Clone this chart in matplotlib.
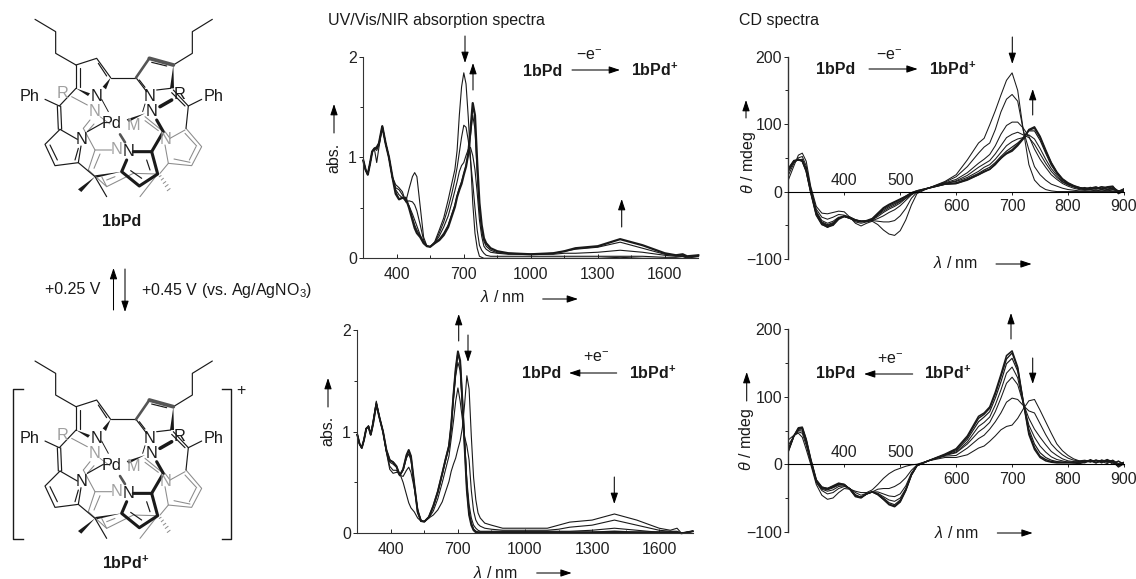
import matplotlib
matplotlib.use('Agg')
import matplotlib.pyplot as plt

plt.rcParams['font.family'] = ['Liberation Sans', 'DejaVu Sans']
plt.rcParams['mathtext.fontset'] = 'custom'
plt.rcParams['mathtext.rm'] = 'Liberation Sans'
plt.rcParams['mathtext.it'] = 'Liberation Sans:italic'
plt.rcParams['mathtext.bf'] = 'Liberation Sans:bold'

# ---- absorption data (wavelength / nm, absorbance) ----
wl_abs = [250,260,270,280,290,300,310,320,335,350,365,380,395,410,425,440,455,470,480,490,505,520,535,550,570,590,610,630,645,660,
          670,680,690,700,710,720,730,740,750,760,770,780,790,800,820,850,
          900,1000,1100,1150,1200,1300,1400,1500,1600,1650,1680,1700,1750]
abs_ox_1 = [.97,.88,.83,.94,1.06,1.08,.95,1.10,1.31,1.14,1.0,.81,.73,.70,.66,.56,.69,.81,.85,.81,.51,.21,.12,.115,.165,.28,.40,.58,.73,.88,
            1.07,1.42,1.70,1.84,1.73,1.40,1.0,.55,.25,.10,.02,.01,0,0,0,0,
            0,0,0,0,0,0,.01,0,0,0,0,0,0]
abs_ox_2 = [.97,.88,.83,.94,1.06,1.09,1.07,1.12,1.31,1.14,1.0,.80,.70,.68,.63,.56,.57,.56,.53,.47,.33,.18,.12,.115,.155,.25,.36,.50,.63,.78,
            .90,1.05,1.20,1.32,1.30,1.17,.97,.75,.50,.28,.13,.08,.05,.03,.02,.02,
            .02,.02,.02,.02,.02,.02,.02,.02,.01,.01,.02,0,.02]
abs_ox_3 = [.97,.88,.83,.94,1.06,1.09,1.09,1.13,1.31,1.14,1.0,.80,.68,.63,.60,.57,.52,.44,.38,.32,.23,.16,.12,.115,.15,.22,.31,.42,.54,.67,
            .76,.86,.92,.95,1.02,1.08,1.10,1.02,.88,.65,.38,.22,.12,.09,.06,.05,
            .04,.04,.04,.05,.05,.06,.08,.06,.03,.02,.02,.01,.02]
abs_ox_4 = [.97,.88,.83,.94,1.06,1.09,1.10,1.14,1.31,1.14,1.0,.81,.66,.59,.60,.59,.51,.40,.33,.28,.22,.15,.12,.115,.15,.19,.25,.33,.43,.53,
            .62,.70,.76,.84,.92,1.03,1.22,1.42,1.28,.85,.48,.28,.17,.12,.08,.055,
            .05,.04,.05,.07,.09,.11,.16,.10,.04,.03,.03,.01,.03]
abs_ox_5 = [.97,.88,.83,.94,1.06,1.09,1.10,1.14,1.31,1.14,1.0,.81,.64,.585,.60,.60,.50,.38,.30,.25,.21,.15,.12,.115,.15,.18,.23,.31,.41,.51,
            .61,.68,.74,.83,.91,1.04,1.27,1.54,1.42,.95,.55,.33,.20,.15,.10,.07,
            .05,.04,.05,.07,.10,.12,.19,.13,.05,.03,.04,.02,.03]

abs_red_1 = [.97,.88,.84,.92,1.03,1.05,.97,1.07,1.30,1.13,1.0,.80,.63,.59,.60,.59,.50,.38,.30,.25,.21,.15,.12,.115,.15,.18,.23,.31,.41,.51,
             .61,.68,.74,.83,.91,1.04,1.27,1.55,1.42,.95,.55,.33,.20,.15,.10,.08,
             .05,.05,.05,.08,.11,.13,.19,.13,.05,.03,.05,0,.02]
abs_red_2 = [.97,.88,.84,.92,1.03,1.06,.97,1.10,1.29,1.13,1.0,.80,.66,.62,.62,.57,.56,.62,.65,.60,.44,.24,.13,.115,.15,.22,.34,.50,.63,.76,
             .93,1.10,1.30,1.43,1.30,1.12,.95,.86,.72,.42,.22,.13,.09,.07,.05,.04,
             .03,.03,.03,.04,.06,.08,.13,.08,.03,.02,.02,0,.02]
abs_red_3 = [.97,.88,.84,.92,1.03,1.05,.97,1.08,1.27,1.13,1.0,.81,.70,.68,.65,.57,.62,.74,.78,.72,.47,.22,.12,.115,.16,.26,.40,.58,.72,.85,
             1.05,1.32,1.55,1.68,1.60,1.25,.90,.52,.28,.15,.08,.05,.03,.02,.02,.02,
             .02,.02,.02,.02,.02,.03,.05,.03,.01,.01,.01,0,.02]
abs_red_4 = [.97,.88,.84,.92,1.03,1.05,.97,1.07,1.27,1.13,1.0,.82,.72,.70,.66,.57,.63,.76,.81,.75,.47,.21,.12,.115,.16,.27,.41,.59,.73,.86,
             1.06,1.35,1.60,1.77,1.68,1.30,.88,.45,.20,.10,.04,.02,.01,.01,.01,.01,
             .01,.01,.01,.01,.01,.01,.02,.01,.01,.01,.01,0,.02]
abs_red_5 = [.97,.88,.84,.92,1.03,1.05,.97,1.07,1.27,1.13,1.0,.82,.72,.70,.66,.57,.63,.77,.82,.76,.48,.21,.12,.115,.16,.27,.41,.59,.73,.86,
             1.06,1.36,1.62,1.79,1.70,1.30,.85,.42,.18,.08,.03,.01,.01,.01,.01,.01,
             .01,.01,.01,.01,.01,.01,.01,.01,.01,.01,.01,0,.02]

# ---- CD data (wavelength / nm, theta / mdeg) ----
wl_cd = [300,310,318,325,332,340,350,360,370,380,390,400,410,420,430,440,450,460,470,480,490,500,510,520,530,550,580,
         600,620,640,650,660,670,680,690,700,710,720,730,740,750,760,770,780,790,800,
         810,820,830,840,850,860,870,880,890,900]
cd_ox_1 = [17,38,54,57,45,8,-22,-32,-33,-31,-29,-30,-38,-47,-51,-47,-44,-49,-57,-63,-65,-58,-42,-20,-3,5,15,
           25,47,72,79,99,120,143,165,176,150,91,40,17,8,3,1,0,0,0,
           0,0,0,0,0,0,0,0,0,0]
cd_ox_2 = [24,42,50,52,38,5,-26,-38,-41,-38,-34,-35,-39,-45,-47,-45,-43,-44,-45,-45,-43,-36,-25,-10,-1,5,14,
           22,37,57,66,72,92,118,137,144,134,91,62,37,25,17,11,8,5,3,
           2,1,1,1,2,1,2,1,1,0]
cd_ox_3 = [29,44,47,48,34,3,-29,-43,-47,-44,-38,-37,-40,-43,-44,-44,-43,-40,-36,-31,-27,-21,-13,-5,0,5,13,
           18,28,42,48,55,68,85,98,103,103,94,82,63,48,36,25,18,12,8,
           5,3,2,3,2,3,2,3,1,2]
cd_ox_4 = [31,44,47,47,33,2,-31,-45,-49,-46,-39,-37,-40,-43,-44,-44,-42,-37,-31,-26,-22,-17,-10,-4,0,5,12,
           16,24,36,41,46,56,68,80,85,88,84,80,70,56,42,30,21,14,10,
           7,4,3,4,4,5,3,4,1,2]
cd_ox_5 = [32,45,47,46,32,1,-32,-46,-50,-47,-39,-37,-39,-42,-44,-44,-42,-35,-29,-24,-20,-15,-10,-3,0,5,12,
           15,21,30,36,40,48,58,68,74,78,80,84,78,64,48,34,24,15,10,
           7,5,4,3,6,4,5,7,1,3]
cd_ox_6 = [33,45,47,46,31,0,-33,-47,-51,-48,-40,-36,-38,-42,-44,-44,-41,-34,-27,-22,-18,-14,-8,-3,0,5,11,
           13,19,27,32,36,43,52,60,66,72,79,90,90,76,57,39,27,17,11,
           8,5,6,4,5,7,3,6,-2,4]
cd_ox_7 = [34,46,47,45,30,0,-34,-48,-53,-49,-40,-36,-38,-42,-44,-44,-41,-33,-25,-20,-16,-12,-7,-2,1,5,11,
           12,18,25,30,33,40,50,56,60,68,78,92,96,82,62,43,29,19,13,
           9,6,4,6,4,7,6,4,0,4]
cd_ox_8 = [33,45,48,45,31,-1,-35,-49,-52,-50,-41,-37,-39,-43,-45,-43,-40,-32,-24,-19,-15,-11,-7,-2,1,5,11,
           12,17,25,29,33,41,49,57,62,70,80,91,94,80,60,42,28,18,12,
           8,6,3,5,7,3,7,8,-3,1]

cd_red_1 = [36,43,46,40,22,0,-30,-46,-52,-50,-42,-36,-37,-40,-42,-42,-38,-30,-21,-14,-9,-6,-3,-1,0,5,10,
            10,14,24,27,34,42,51,56,58,68,82,94,96,80,63,46,30,20,13,
            8,5,6,4,6,5,4,6,1,3]
cd_red_2 = [28,42,48,46,28,3,-27,-39,-44,-42,-36,-33,-36,-42,-46,-43,-41,-37,-36,-36,-33,-28,-20,-9,-1,5,12,
            13,24,38,43,52,63,76,92,98,96,87,79,76,60,44,30,21,14,9,
            6,5,4,5,3,6,5,2,4,1]
cd_red_3 = [23,42,50,49,32,5,-26,-37,-40,-38,-33,-32,-36,-45,-49,-44,-41,-41,-44,-47,-48,-44,-32,-13,-2,5,13,
            17,30,48,54,62,78,98,120,129,118,90,68,52,40,29,19,13,8,5,
            4,3,5,6,2,5,6,4,0,2]
cd_red_4 = [21,42,51,51,34,6,-25,-36,-38,-35,-31,-31,-36,-46,-49,-44,-41,-43,-48,-53,-55,-50,-36,-15,-2,5,14,
            18,33,56,62,70,88,110,135,144,128,90,58,40,27,18,11,7,5,3,
            3,3,5,3,6,4,1,6,-2,3]
cd_red_5 = [20,42,52,53,35,7,-24,-35,-37,-34,-30,-30,-37,-47,-49,-44,-41,-44,-50,-57,-60,-53,-38,-16,-2,5,14,
            20,37,63,70,78,98,122,149,157,138,92,52,30,17,10,6,4,3,3,
            3,4,2,7,3,5,6,0,5,-1]
cd_red_6 = [20,42,53,54,36,7,-24,-34,-36,-33,-29,-30,-37,-47,-49,-44,-41,-45,-52,-59,-62,-55,-38,-16,-2,5,14,
            22,40,68,74,83,104,130,156,165,142,92,47,25,12,7,4,3,3,3,
            2,3,5,4,6,2,7,3,-3,2]
cd_red_7 = [19,42,54,55,37,8,-23,-34,-36,-32,-28,-30,-37,-48,-50,-44,-41,-45,-52,-60,-63,-56,-39,-16,-2,5,15,
            23,42,71,76,85,107,133,161,168,144,92,44,22,10,5,3,2,2,2,
            2,1,3,5,2,6,3,5,-4,1]

abs_major = [400,700,1000,1300,1600]
abs_minor = [550,850,1150,1450]
cd_low_labels = ['400','500']
cd_high_labels = ['600','700','800','900']

W, H = 1136, 579
FS = 11.5
TFS = 11.4
INK = '#1a1a1a'
fig = plt.figure(figsize=(W/100, H/100), dpi=100)

def make_axes(left, right, top, bottom):
    return fig.add_axes([left/W, 1-bottom/H, (right-left)/W, (bottom-top)/H])

def style(ax):
    for s in ('top','right'):
        ax.spines[s].set_visible(False)
    for s in ('left','bottom'):
        ax.spines[s].set_color('#333333')
        ax.spines[s].set_linewidth(0.8)
    ax.patch.set_alpha(0)
    ax.tick_params(axis='both', which='both', labelsize=TFS, colors='#222222', width=.7)
    ax.tick_params(axis='both', which='major', length=3)
    ax.tick_params(axis='both', which='minor', length=2)

def abs_panel(box, curves, widths):
    ax = make_axes(*box)
    for c, lw in zip(curves, widths):
        ax.plot(wl_abs, c, color=INK, lw=lw, clip_on=False, solid_joinstyle='round')
    ax.set_xlim(250, 1750); ax.set_ylim(0, 2)
    ax.set_xticks(abs_major); ax.set_xticks(abs_minor, minor=True)
    ax.set_yticks([0,1,2]); ax.set_yticks([.5,1.5], minor=True)
    style(ax)
    ax.tick_params(axis='x', which='both', direction='in', pad=6)
    ax.tick_params(axis='y', which='both', direction='out', pad=1.5)
    return ax

def cd_panel(box, curves, widths, low_y, high_y):
    ax = make_axes(*box)
    for c, lw in zip(curves, widths):
        ax.plot(wl_cd, c, color=INK, lw=lw, solid_joinstyle='round')
    ax.set_xlim(300, 900); ax.set_ylim(-100, 200)
    ax.set_yticks([-100,0,100,200], ['\u2212100','0','100','200'])
    ax.set_yticks([-50,50,150], minor=True)
    ax.set_xticks([400,500,600,700,800,900], [])
    style(ax)
    ax.spines['bottom'].set_position(('data', 0))
    ax.spines['bottom'].set_color('black')
    ax.spines['left'].set_linewidth(1.0)
    ax.tick_params(axis='x', direction='out', length=2.5)
    ax.tick_params(axis='y', which='both', direction='out', pad=1.5)
    for x, t in zip([400,500], cd_low_labels):
        ax.text(x, low_y, t, ha='center', va='center', fontsize=TFS, color='#222222')
    for x, t in zip([600,700,800,900], cd_high_labels):
        ax.text(x, high_y, t, ha='center', va='center', fontsize=TFS, color='#222222', clip_on=False)
    return ax

abs_panel((363.3,698.3,56.7,258.3), [abs_ox_1,abs_ox_2,abs_ox_3,abs_ox_4,abs_ox_5], [.8,.8,.8,.8,1.6])
abs_panel((357.3,692.7,330,533.3), [abs_red_1,abs_red_2,abs_red_3,abs_red_4,abs_red_5], [.8,.8,.8,1.1,1.4])
cd_panel((788.3,1124,56.7,259), [cd_ox_1,cd_ox_2,cd_ox_3,cd_ox_4,cd_ox_5,cd_ox_6,cd_ox_7,cd_ox_8], [.75,.75,.75,.75,.75,.85,1.1,1.1], 17, -22)
cd_panel((788.3,1124,329.3,531.7), [cd_red_1,cd_red_2,cd_red_3,cd_red_4,cd_red_5,cd_red_6,cd_red_7], [.75,.75,.75,.75,.85,1.0,1.1], 17, -22)

# overlay in pixel coordinates for annotations and the structures
ov = fig.add_axes([0,0,1,1])
ov.set_xlim(0, W); ov.set_ylim(H, 0); ov.axis('off'); ov.patch.set_alpha(0)

def txt(x, y, s, bold=False, ha='center', size=FS, rot=0, color='#1a1a1a', **kw):
    ov.text(x, y, s, ha=ha, va='center', fontsize=size, rotation=rot, color=color,
            fontweight='bold' if bold else 'normal', **kw)

def arrow(x0, y0, x1, y1):
    ov.annotate('', xy=(x1,y1), xytext=(x0,y0),
                arrowprops=dict(arrowstyle='-|>,head_length=0.6,head_width=0.2', color='black',
                                lw=.75, shrinkA=0, shrinkB=0, mutation_scale=11))

NP = '1bPd$^{\\mathbf{+}}$'
txt(328, 21, 'UV/Vis/NIR absorption spectra', ha='left')
txt(739, 21, 'CD spectra', ha='left')
# panel A
txt(543, 71, '1bPd', True); txt(655, 70, NP, True)
arrow(572, 70, 620, 70); txt(589, 55, '\u2212e$^{\u2212}$')
txt(334, 158, 'abs.', rot=90); arrow(334, 133, 334, 104)
arrow(465, 36, 465, 63); arrow(473, 90, 473, 63); arrow(621.7, 227, 621.7, 199)
txt(502.7, 297, r'$\lambda$ / nm'); arrow(542.7, 299, 578, 299)
# panel B
txt(541.7, 373, '1bPd', True); txt(653, 373, NP, True)
arrow(616.7, 373, 569, 373); txt(596, 357, '+e$^{\u2212}$')
txt(328, 431, 'abs.', rot=90); arrow(328, 407, 328, 378)
arrow(458.7, 341, 458.7, 314); arrow(468, 335, 468, 362); arrow(614.3, 477, 614.3, 504)
txt(496, 573, r'$\lambda$ / nm'); arrow(536.7, 573, 571.7, 573)
# panel C
txt(836, 70, '1bPd', True); txt(952.7, 69, NP, True)
arrow(869, 69, 917.7, 69); txt(889, 55, '\u2212e$^{\u2212}$')
txt(748, 163, r'$\theta$ / mdeg', rot=90); arrow(746, 118, 746, 100)
arrow(1012.3, 37, 1012.3, 64); arrow(1032.7, 115, 1032.7, 89)
txt(956, 263, r'$\lambda$ / nm'); arrow(996, 264, 1031.7, 264)
# panel D
txt(836, 374, '1bPd', True); txt(948, 373, NP, True)
arrow(912.7, 374, 864, 374); txt(890, 360, '+e$^{\u2212}$')
txt(746.7, 440, r'$\theta$ / mdeg', rot=90); arrow(746.7, 401, 746.7, 372)
arrow(1011, 339, 1011, 313); arrow(1032.7, 358, 1032.7, 384)
txt(956.7, 533, r'$\lambda$ / nm'); arrow(997.3, 533, 1032.7, 533)
# middle
txt(100, 290, '+0.25 V', ha='right')
txt(141, 290, '+0.45 V (vs. Ag/AgNO$_3$)', ha='left')
arrow(113.5, 310, 113.5, 268); arrow(125, 269, 125, 312)
txt(122, 221, '1bPd', True); txt(126, 563, NP, True)

# structure: polylines in 3x-zoom coordinates -> (points, width, colour)
K = '#1a1a1a'; G = '#8c8c8c'; D = '#555555'
bonds = [
 # gray lower layer
 ([(215,290),(262,315)],.9,G),([(300,350),(330,372)],.7,G),
 ([(250,385),(270,360)],.9,G),([(262,395),(282,372)],.9,G),
 ([(250,385),(285,450),(335,450)],.9,G),([(285,450),(265,510)],.9,G),([(300,462),(282,505)],.9,G),
 ([(265,510),(320,560),(400,520),(473,522)],.9,G),([(320,540),(345,530)],.9,G),
 ([(320,560),(305,530)],.9,G),
 ([(435,350),(490,395)],.9,G),([(435,362),(475,392)],.9,G),
 ([(495,395),(510,415)],.9,G),([(555,390),(510,415)],.9,G),
 ([(558,385),(605,440),(575,497),(505,490),(480,520)],.9,G),
 ([(588,440),(568,480)],.9,G),([(570,487),(522,477)],.9,G),([(555,400),(590,438)],.9,G),
 ([(495,435),(505,490)],.9,G),
 ([(473,522),(420,590)],.9,G),
 # black upper layer
 ([(105,58),(167,95),(167,160),(228,195)],1,K),
 ([(228,195),(290,175),(332,233)],1,K),([(295,190),(320,228)],1,K),
 ([(228,195),(228,265)],1,K),([(240,205),(240,262)],1,K),
 ([(332,233),(408,233)],1,K),([(408,233),(440,275)],1,K),([(418,240),(435,262)],1,K),
 ([(520,195),(577,160),(577,95),(637,58)],1,K),
 ([(135,298),(178,318)],1,K),([(172,318),(175,388)],1,K),([(182,318),(185,388)],1,K),
 ([(178,318),(228,265)],1,K),
 ([(180,388),(232,418)],1,K),([(180,388),(135,433),(165,497),(235,488),(243,438)],1,K),
 ([(150,435),(172,480)],1,K),([(225,480),(235,445)],1,K),
 ([(605,298),(565,318),(558,385)],1,K),([(565,318),(520,270)],1,K),([(555,318),(515,278)],1,K),
 ([(470,270),(512,265)],1,K),([(305,298),(325,335)],.8,K),
 ([(262,395),(310,368)],1,K),([(235,488),(285,530),(320,590)],1,K),
 ([(435,312),(428,335)],.8,K),
 ([(448,175),(520,195)],3.2,D),([(408,233),(448,175)],2.2,D),([(455,187),(500,198)],1,K),
 # bold front pyrrole
 ([(470,360),(490,395),(455,455),(400,455)],2.6,K),
 ([(455,455),(473,522),(418,558),(365,515),(380,480)],2.6,K),
 ([(440,480),(450,510)],1,K),([(392,512),(425,535)],1,K),
 ([(480,320),(515,300)],3,K),
 ([(360,403),(375,427)],2.2,D),
]
# wedges as filled triangles
wedges = [
 [(228,265),(270,280),(264,288)],
 [(332,233),(308,260),(318,268)],
 [(520,195),(510,265),(522,265)],
 [(435,340),(380,358),(386,366)],
 [(365,515),(285,526),(285,534)],
 [(285,530),(234,568),(244,576)],
]
hashes = [[(478,530),(483,527)],[(484,540),(490,535)],[(490,550),(497,545)],[(496,560),(504,554)],[(502,572),(510,566)]]
labels = [(90,290,'Ph',K),(640,290,'Ph',K),(188,280,'R','#a0a0a0'),(540,283,'R',K),
          (290,290,'N',K),(450,290,'N',K),(283,335,'N','#a0a0a0'),(455,335,'N',K),
          (335,372,'Pd',K),(400,375,'M','#a0a0a0'),(245,420,'N',K),(350,450,'N','#a0a0a0'),
          (385,455,'N',K),(497,420,'N','#a0a0a0')]

def structure(dy):
    for pts, lw, col in bonds:
        ov.plot([p[0]/3 for p in pts], [p[1]/3+dy for p in pts], color=col, lw=lw*.85,
                solid_capstyle='round', solid_joinstyle='round')
    for tri in wedges:
        ov.fill([p[0]/3 for p in tri], [p[1]/3+dy for p in tri], color=K, lw=0)
    for pts in hashes:
        ov.plot([p[0]/3 for p in pts], [p[1]/3+dy for p in pts], color=G, lw=.7)
    for x, y, s, c in labels:
        txt(x/3, y/3+dy, s, color=c, size=FS+.2)

structure(0)
structure(341.7)
# brackets for the cation
ov.plot([22.7,13.3,13.3,22.7],[389.3,389.3,539,539],color=K,lw=1)
ov.plot([221.7,230.7,230.7,221.7],[389.3,389.3,539,539],color=K,lw=1)
txt(240.7, 390.7, '+')

fig.savefig('out.png', dpi=100)
